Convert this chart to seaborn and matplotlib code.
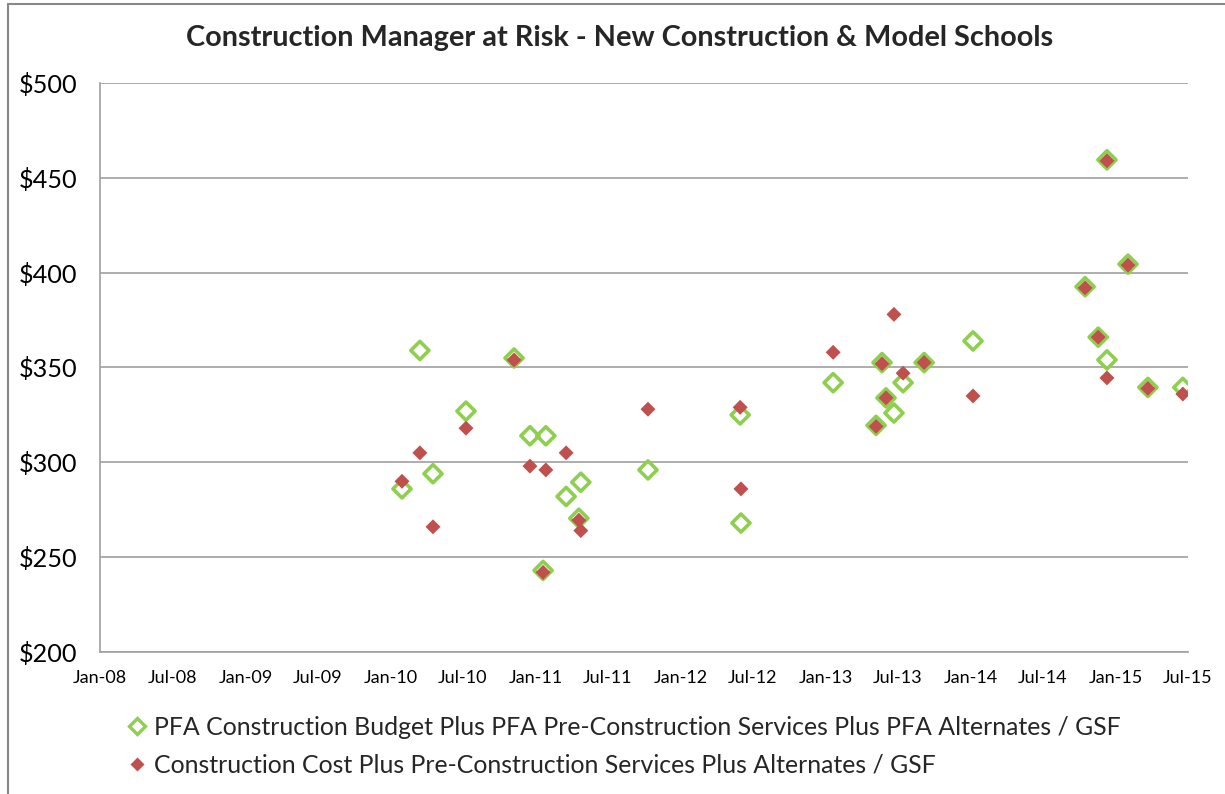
import matplotlib
matplotlib.use("Agg")
import matplotlib.pyplot as plt
import matplotlib.dates as mdates
from matplotlib.ticker import FuncFormatter, MultipleLocator
from matplotlib.lines import Line2D
import seaborn as sns
import pandas as pd

sns.set_theme(style="white")
plt.rcParams['font.family'] = ['Lato', 'DejaVu Sans']

title = "Construction Manager at Risk - New Construction & Model Schools"
label_budget = "PFA Construction Budget Plus PFA Pre-Construction Services Plus PFA Alternates / GSF"
label_cost = "Construction Cost Plus Pre-Construction Services Plus Alternates / GSF"

dates = ["2010-01-30", "2010-03-16", "2010-04-18", "2010-07-10", "2010-11-08",
         "2010-12-18", "2011-01-20", "2011-01-27", "2011-03-19", "2011-04-20",
         "2011-04-25", "2011-10-11", "2012-05-30", "2012-06-01", "2013-01-19",
         "2013-05-07", "2013-05-22", "2013-06-01", "2013-06-21", "2013-07-14",
         "2013-09-05", "2014-01-06", "2014-10-15", "2014-11-17", "2014-12-09",
         "2014-12-09", "2015-01-31", "2015-03-22", "2015-06-18"]
budget = [286, 359, 294, 327, 355, 314, 243, 314, 282, 270.5, 289.5, 296, 325, 268, 342,
          319.5, 352.6, 334, 326, 342, 352.6, 364, 392.6, 366, 459.5, 354, 404.5, 339.5, 339.5]
cost = [290, 305, 266, 318, 354, 298, 242, 296, 305, 269.5, 264, 328, 329, 286, 358,
        319, 352, 334, 378, 347, 352.6, 335, 392, 366, 459, 344.5, 404, 339, 336]

df = pd.DataFrame({"date": pd.to_datetime(dates), "budget": budget, "cost": cost})

green = "#8FCF4F"
red = "#C0504D"

fig = plt.figure(figsize=(12.25, 7.94), dpi=100)
ax = fig.add_axes([100/1225, 1-652/794, (1188-100)/1225, (652-83)/794])

sns.scatterplot(data=df, x="date", y="budget", ax=ax, marker="D", s=85,
                facecolor="none", edgecolor=green, linewidth=2.6, zorder=3)
sns.scatterplot(data=df, x="date", y="cost", ax=ax, marker="D", s=58,
                color=red, edgecolor="none", linewidth=0, zorder=4)

ax.set_xlim(pd.Timestamp("2008-01-01"), pd.Timestamp("2015-07-01"))
ax.set_ylim(200, 500)
ax.yaxis.set_major_locator(MultipleLocator(50))
ax.yaxis.set_major_formatter(FuncFormatter(lambda v, p: f"${v:.0f}"))
ax.xaxis.set_major_locator(mdates.MonthLocator(bymonth=[1, 7]))
ax.xaxis.set_major_formatter(mdates.DateFormatter("%b-%y"))
ax.grid(axis="y", color="#A0A0A0", linewidth=1.2)
ax.grid(axis="x", visible=False)
ax.set_axisbelow(True)
ax.set_xlabel("")
ax.set_ylabel("")
for s in ["right", "top"]:
    ax.spines[s].set_visible(False)
for s in ["left", "bottom"]:
    ax.spines[s].set_color("#A0A0A0")
    ax.spines[s].set_linewidth(1.2)
ax.tick_params(axis="y", labelsize=18.2, colors="black", length=0, pad=16.5)
ax.tick_params(axis="x", labelsize=13, colors="black", length=0, pad=13)

fig.text(0.506, 1-38/794, title, ha="center", va="center", fontsize=20.8, fontweight="bold")

handles = [Line2D([], [], linestyle="none", marker="D", markersize=8.5, markerfacecolor="none",
                  markeredgecolor=green, markeredgewidth=2.4),
           Line2D([], [], linestyle="none", marker="D", markersize=7, markerfacecolor=red,
                  markeredgecolor="none")]
fig.legend(handles, [label_budget, label_cost], loc="upper left",
           bbox_to_anchor=(118/1225, 1-706/794), frameon=False, fontsize=17.9,
           handlelength=0.75, handletextpad=0.3, labelspacing=0.58, borderaxespad=0)

fig.add_artist(Line2D([8/1225, 8/1225], [0, 1-4/794], transform=fig.transFigure, color="#888888", linewidth=1.5))
fig.add_artist(Line2D([8/1225, 1], [1-4/794, 1-4/794], transform=fig.transFigure, color="#888888", linewidth=1.5))

fig.savefig("out.png", dpi=100)
